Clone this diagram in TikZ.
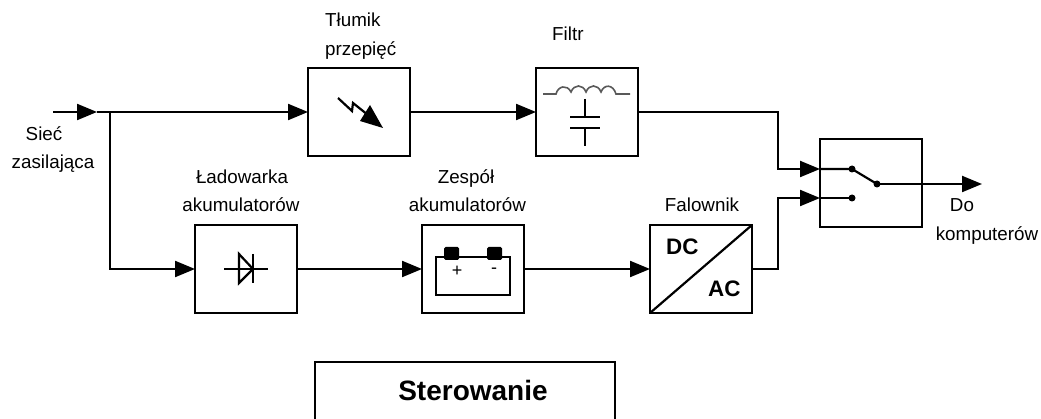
\documentclass[tikz,border=0pt]{standalone}
\usepackage{fontspec}
\setmainfont{Liberation Sans}
\usetikzlibrary{arrows.meta}
\tikzset{
  boxnode/.style={draw=black,line width=2.2pt,rectangle,inner sep=0pt,outer sep=0pt,minimum width=102pt,minimum height=88pt},
  lbl/.style={anchor=base,inner sep=0pt,font=\fontsize{18.8}{22}\selectfont},
  lblw/.style={lbl,anchor=base west},
  bigl/.style={anchor=base west,inner sep=0pt,font=\fontsize{22.4}{26}\selectfont\bfseries},
  smalll/.style={anchor=center,inner sep=0pt,font=\fontsize{18}{20}\selectfont},
  wire/.style={line width=2.2pt,line join=miter},
  flow/.style={wire,-{Triangle[length=20pt,width=16pt]}},
  sym/.style={line width=2.2pt},
  dotn/.style={circle,fill=black,inner sep=0pt,outer sep=0pt,minimum size=7pt}
}
\begin{document}
\begin{tikzpicture}[x=1pt,y=-1pt]
\useasboundingbox (0,0) rectangle (1041,419);
\clip (0,0) rectangle (1041,419);
\fill[white] (0,0) rectangle (1041,419);
% boxes
\node[boxnode] (tlumik) at (359,112) {};
\node[boxnode] (filtr) at (587,112) {};
\node[boxnode] (lad) at (246,269) {};
\node[boxnode] (zes) at (473,269) {};
\node[boxnode] (fal) at (701,269) {};
\node[boxnode] (prz) at (871,183) {};
\node[boxnode,minimum width=300pt,minimum height=80pt] (ster) at (465,402) {};
% labels
\node[lblw] (t1) at (325,27) {Tłumik};
\node[lblw] (t2) at (325,56) {przepięć};
\node[lblw] (t3) at (552,41) {Filtr};
\node[lbl] (t4) at (242,184) {Ładowarka};
\node[lbl] (t5) at (241,212) {akumulatorów};
\node[lbl] (t6) at (466,184) {Zespół};
\node[lbl] (t7) at (467.5,212) {akumulatorów};
\node[lbl] (t8) at (702,212) {Falownik};
\node[lbl] (t9) at (962,212) {Do};
\node[lbl] (t10) at (987,241) {komputerów};
\node[lbl] (t11) at (44,141) {Sieć};
\node[lbl] (t12) at (53,169) {zasilająca};
\node[bigl] (dc) at (666,255) {DC};
\node[bigl] (ac) at (708,297) {AC};
\node[anchor=base,inner sep=0pt,font=\fontsize{28}{32}\selectfont\bfseries] (stl) at (473,400) {Sterowanie};
% connectors
\coordinate (in) at (53,112);
\coordinate (intip) at (97,112);
\coordinate (j) at (110,112);
\coordinate (jd) at (110,269);
\coordinate (b1) at (778,112);
\coordinate (b2) at (778,169);
\coordinate (b3) at (820,169);
\coordinate (b4) at (778,269);
\coordinate (b5) at (778,198);
\coordinate (b6) at (820,198);
\coordinate (out) at (982,184);
\node[dotn] (s1) at (852,169) {};
\node[dotn] (s2) at (852,198) {};
\node[dotn] (s3) at (877,184) {};
\draw[flow] (in) -- (intip);
\draw[flow] (intip) -- (tlumik.west);
\draw[flow] (j) -- (jd) -- (lad.west);
\draw[flow] (tlumik.east) -- (filtr.west);
\draw[flow] (lad.east) -- (zes.west);
\draw[flow] (zes.east) -- (fal.west);
\draw[flow] (filtr.east) -- (b1) -- (b2) -- (b3);
\draw[flow] (fal.east) -- (b4) -- (b5) -- (b6);
\draw[wire] (b3) -- (s1.center) -- (s3.center);
\draw[wire] (b6) -- (s2.center);
\draw[flow] (s3.center) -- (out);
% inverter diagonal
\draw[sym] (fal.south west) -- (fal.north east);
% surge symbol
\draw[sym] (338,98) -- (352,111) -- (353,103) -- (368,115);
\fill (383,128) -- (370,105) -- (360,121) -- cycle;
% filter symbol
\draw[line width=1.6pt,color=black!65] (543,94) -- (556,94) .. controls (558,86) and (567,84) .. (571,92)
  .. controls (574,84) and (583,84) .. (586,92) .. controls (589,84) and (598,84) .. (601,92)
  .. controls (604,84) and (613,84) .. (616,94) -- (630,94);
\draw[sym] (585,99) -- (585,117) (570,117) -- (600,117) (570,128) -- (600,128) (585,128) -- (585,146);
% diode
\draw[sym] (224,269) -- (268,269);
\draw[sym,line join=miter] (239,283) -- (239,254) -- (253,269) -- cycle;
\draw[sym] (253,254) -- (253,283);
% battery
\draw[sym] (436,257) rectangle (510,295);
\fill[rounded corners=1.5pt] (444,247) rectangle (459,260);
\fill[rounded corners=1.5pt] (487,247) rectangle (502,260);
\node[smalll] (plus) at (457,271) {+};
\node[smalll] (minus) at (494,271) {-};
\end{tikzpicture}
\end{document}
